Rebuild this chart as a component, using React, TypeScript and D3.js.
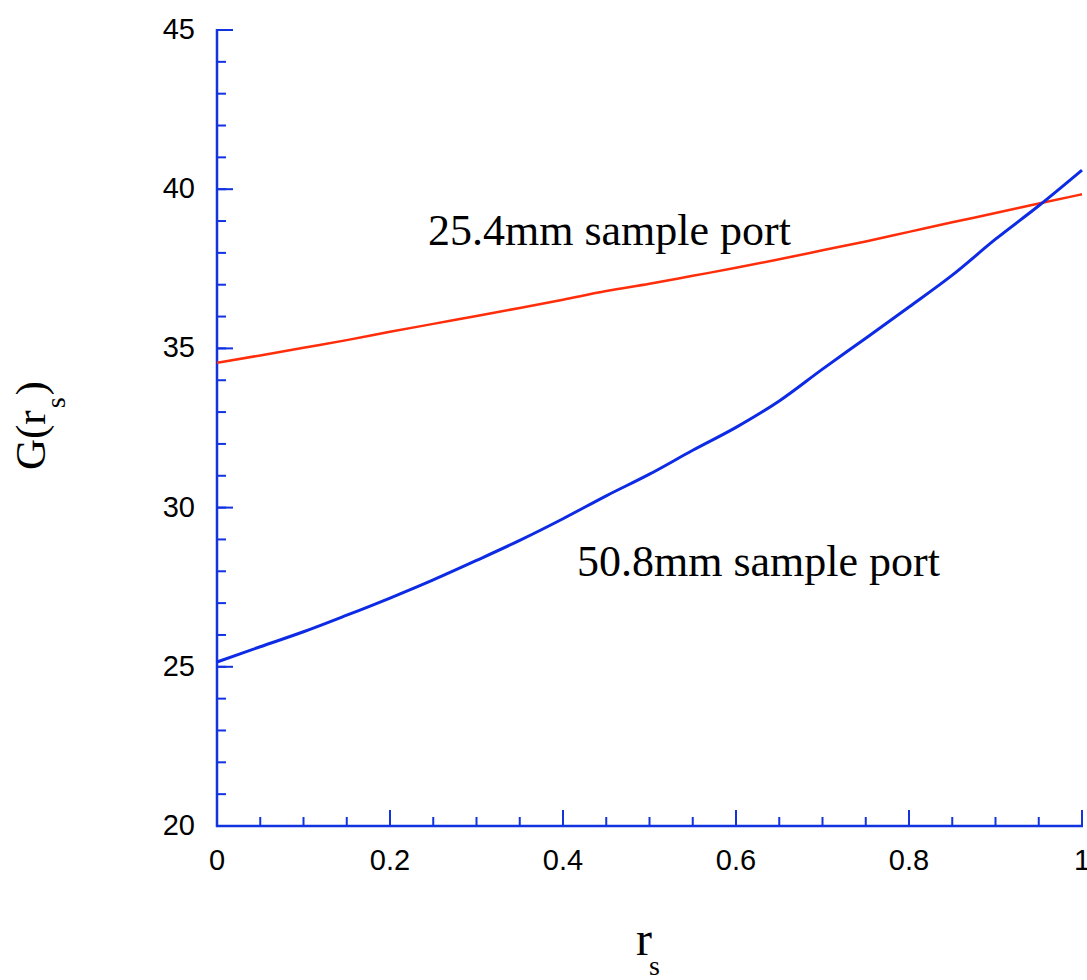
import React from "react";
import * as d3 from "d3";

const rsValues = [0, 0.05, 0.1, 0.15, 0.2, 0.25, 0.3, 0.35, 0.4, 0.45, 0.5, 0.55, 0.6, 0.65, 0.7, 0.75, 0.8, 0.85, 0.9, 0.95, 1.0];
const port254 = [34.55, 34.78, 35.02, 35.26, 35.52, 35.77, 36.02, 36.27, 36.53, 36.8, 37.03, 37.28, 37.53, 37.8, 38.08, 38.36, 38.66, 38.96, 39.25, 39.55, 39.84];
const port508 = [25.15, 25.63, 26.1, 26.62, 27.16, 27.73, 28.34, 28.97, 29.65, 30.37, 31.05, 31.8, 32.52, 33.35, 34.35, 35.32, 36.3, 37.3, 38.43, 39.48, 40.6];
const xMajorTicks = [0, 0.2, 0.4, 0.6, 0.8, 1];
const yMajorTicks = [20, 25, 30, 35, 40, 45];
const seriesLabels = ["25.4mm sample port", "50.8mm sample port"];

const W = 1087;
const H = 980;
const left = 217;
const right = 1082;
const top = 30;
const bottom = 826;

const axisColor = "#1233e0";
const redColor = "#ff2d0a";
const blueColor = "#0d2be4";

export default function App() {
  const x = d3.scaleLinear().domain([0, 1]).range([left, right]);
  const y = d3.scaleLinear().domain([20, 45]).range([bottom, top]);

  const xMinor = d3.range(0, 1.0001, 0.05).map((v) => +v.toFixed(2));
  const yMinor = d3.range(20, 45.0001, 1);

  const line = d3
    .line<number>()
    .x((_, i) => x(rsValues[i]))
    .y((d) => y(d))
    .curve(d3.curveMonotoneX);

  const tickFont = "'Liberation Sans', Arial, Helvetica, sans-serif";
  const serif = "'Liberation Serif', 'Times New Roman', serif";

  return (
    <svg width={W} height={H} style={{ position: "absolute", left: 0, top: 0, background: "#fff" }}>
      {xMinor.map((v) => (
        <line key={"xm" + v} x1={x(v)} x2={x(v)} y1={bottom} y2={bottom - 9} stroke={axisColor} strokeWidth={2} />
      ))}
      {yMinor.map((v) => (
        <line key={"ym" + v} x1={left} x2={left + 9} y1={y(v)} y2={y(v)} stroke={axisColor} strokeWidth={2} />
      ))}
      {xMajorTicks.map((v) => (
        <line key={"xM" + v} x1={x(v)} x2={x(v)} y1={bottom} y2={bottom - 16} stroke={axisColor} strokeWidth={2} />
      ))}
      {yMajorTicks.map((v) => (
        <line key={"yM" + v} x1={left} x2={left + 16} y1={y(v)} y2={y(v)} stroke={axisColor} strokeWidth={2} />
      ))}
      <line x1={left} x2={left} y1={top - 1} y2={bottom + 1} stroke={axisColor} strokeWidth={2.5} />
      <line x1={left - 1} x2={right + 1} y1={bottom} y2={bottom} stroke={axisColor} strokeWidth={2.5} />

      {xMajorTicks.map((v) => (
        <text key={"xl" + v} x={x(v)} y={bottom + 44} textAnchor="middle" fontFamily={tickFont} fontSize={29} fill="#000">
          {String(v)}
        </text>
      ))}
      {yMajorTicks.map((v) => (
        <text key={"yl" + v} x={left - 22} y={y(v) + 9} textAnchor="end" fontFamily={tickFont} fontSize={29} fill="#000">
          {v}
        </text>
      ))}

      <path d={line(port254) || ""} fill="none" stroke={redColor} strokeWidth={2.5} />
      <path d={line(port508) || ""} fill="none" stroke={blueColor} strokeWidth={3} />

      <text x={428} y={245} fontFamily={serif} fontSize={44} fill="#000">{seriesLabels[0]}</text>
      <text x={577} y={576} fontFamily={serif} fontSize={44} fill="#000">{seriesLabels[1]}</text>

      <text x={636} y={955} fontFamily={serif} fontSize={48} fill="#000">
        r
        <tspan fontSize={28} dx={-3} dy={20}>s</tspan>
      </text>
      <text transform="translate(45,470) rotate(-90)" fontFamily={serif} fontSize={43} fill="#000">
        G(r
        <tspan fontSize={28} dy={20} dx={2}>s</tspan>
        <tspan dy={-20} dx={2}>)</tspan>
      </text>
    </svg>
  );
}
